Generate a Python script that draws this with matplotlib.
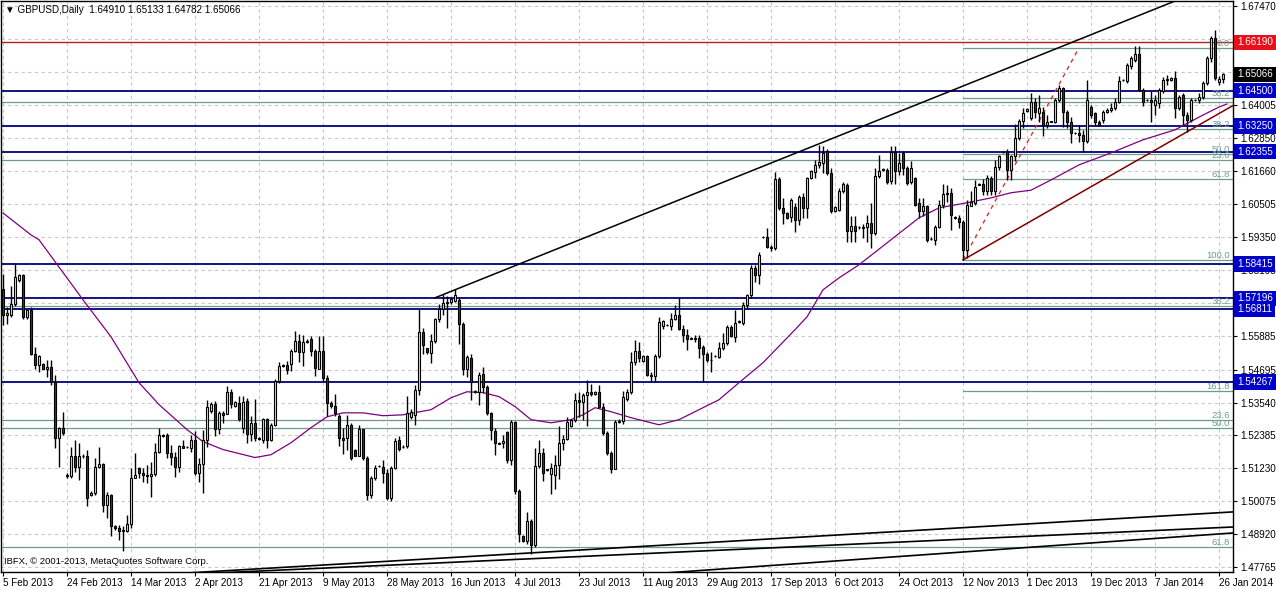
import matplotlib
matplotlib.use("Agg")
import matplotlib.pyplot as plt
import matplotlib.transforms as mtransforms
import numpy as np

plt.rcParams["font.family"] = ["Liberation Sans", "DejaVu Sans"]

# ---- daily bars, 5 Feb 2013 .. 27 Jan 2014 (broker has short Sunday bars) ----
opens = [
    1.5754, 1.5660, 1.5663, 1.5701, 1.5783, 1.5801, 1.5654, 1.5678, 1.5526, 1.5485,
    1.5491, 1.5473, 1.5479, 1.5427, 1.5228, 1.5263, 1.5097, 1.5097, 1.5167, 1.5129,
    1.5167, 1.5167, 1.5030, 1.5036, 1.5129, 1.5137, 1.4995, 1.5030, 1.4922, 1.4913,
    1.4903, 1.4903, 1.4927, 1.5090, 1.5123, 1.5106, 1.5100, 1.5097, 1.5102, 1.5181,
    1.5240, 1.5240, 1.5176, 1.5164, 1.5129, 1.5202, 1.5199, 1.5195, 1.5222, 1.5106,
    1.5137, 1.5222, 1.5324, 1.5348, 1.5260, 1.5319, 1.5313, 1.5391, 1.5342, 1.5354,
    1.5266, 1.5360, 1.5242, 1.5281, 1.5230, 1.5224, 1.5295, 1.5224, 1.5277, 1.5430,
    1.5481, 1.5485, 1.5489, 1.5536, 1.5571, 1.5532, 1.5567, 1.5578, 1.5536, 1.5471,
    1.5536, 1.5442, 1.5354, 1.5342, 1.5307, 1.5230, 1.5230, 1.5274, 1.5189, 1.5166,
    1.5260, 1.5160, 1.5030, 1.5089, 1.5131, 1.5128, 1.5107, 1.5019, 1.5125, 1.5224,
    1.5198, 1.5201, 1.5305, 1.5311, 1.5398, 1.5601, 1.5545, 1.5528, 1.5571, 1.5648,
    1.5683, 1.5703, 1.5706, 1.5712, 1.5715, 1.5630, 1.5473, 1.5511, 1.5392, 1.5392,
    1.5456, 1.5410, 1.5317, 1.5255, 1.5212, 1.5212, 1.5250, 1.5154, 1.5285, 1.5044,
    1.4887, 1.4867, 1.4939, 1.4852, 1.5131, 1.5177, 1.5117, 1.5102, 1.5099, 1.5134,
    1.5212, 1.5227, 1.5272, 1.5293, 1.5363, 1.5355, 1.5380, 1.5392, 1.5385, 1.5392,
    1.5339, 1.5247, 1.5177, 1.5119, 1.5287, 1.5290, 1.5368, 1.5391, 1.5497, 1.5535,
    1.5499, 1.5517, 1.5450, 1.5446, 1.5518, 1.5624, 1.5627, 1.5624, 1.5649, 1.5663,
    1.5614, 1.5593, 1.5579, 1.5581, 1.5581, 1.5550, 1.5523, 1.5503, 1.5517, 1.5515,
    1.5544, 1.5562, 1.5620, 1.5585, 1.5638, 1.5632, 1.5696, 1.5731, 1.5825, 1.5802,
    1.5935, 1.5936, 1.5901, 1.5896, 1.6138, 1.6036, 1.6019, 1.6007, 1.6042, 1.5995,
    1.6077, 1.6036, 1.6142, 1.6165, 1.6189, 1.6194, 1.6237, 1.6160, 1.6028, 1.6032,
    1.6098, 1.6120, 1.5955, 1.5976, 1.5969, 1.5966, 1.5972, 1.5984, 1.5949, 1.6150,
    1.6172, 1.6172, 1.6131, 1.6235, 1.6166, 1.6231, 1.6178, 1.6129, 1.6143, 1.6055,
    1.6026, 1.6043, 1.5929, 1.5925, 1.5972, 1.6049, 1.6086, 1.6090, 1.6004, 1.6004,
    1.5990, 1.5890, 1.6046, 1.6055, 1.6120, 1.6122, 1.6096, 1.6143, 1.6098, 1.6180,
    1.6234, 1.6234, 1.6172, 1.6219, 1.6284, 1.6343, 1.6378, 1.6353, 1.6411, 1.6370,
    1.6376, 1.6329, 1.6341, 1.6341, 1.6417, 1.6458, 1.6376, 1.6341, 1.6300, 1.6300,
    1.6295, 1.6272, 1.6394, 1.6370, 1.6341, 1.6347, 1.6376, 1.6380, 1.6390, 1.6411,
    1.6486, 1.6482, 1.6535, 1.6558, 1.6578, 1.6452, 1.6417, 1.6417, 1.6400, 1.6405,
    1.6447, 1.6488, 1.6488, 1.6494, 1.6388, 1.6435, 1.6364, 1.6347, 1.6417, 1.6417,
    1.6429, 1.6476, 1.6564, 1.6634, 1.6480, 1.64910,
]
highs = [
    1.5806, 1.5690, 1.5765, 1.5845, 1.5806, 1.5806, 1.5684, 1.5690, 1.5549, 1.5520,
    1.5494, 1.5503, 1.5503, 1.5450, 1.5269, 1.5322, 1.5105, 1.5199, 1.5222, 1.5211,
    1.5172, 1.5187, 1.5045, 1.5158, 1.5199, 1.5141, 1.5041, 1.5032, 1.4925, 1.4925,
    1.4919, 1.4959, 1.5123, 1.5176, 1.5129, 1.5123, 1.5135, 1.5146, 1.5211, 1.5263,
    1.5245, 1.5246, 1.5205, 1.5181, 1.5205, 1.5222, 1.5203, 1.5240, 1.5254, 1.5158,
    1.5257, 1.5363, 1.5356, 1.5360, 1.5324, 1.5324, 1.5412, 1.5401, 1.5360, 1.5377,
    1.5377, 1.5371, 1.5307, 1.5366, 1.5234, 1.5301, 1.5301, 1.5283, 1.5436, 1.5497,
    1.5490, 1.5500, 1.5542, 1.5606, 1.5595, 1.5591, 1.5576, 1.5589, 1.5542, 1.5589,
    1.5589, 1.5450, 1.5360, 1.5383, 1.5313, 1.5266, 1.5309, 1.5283, 1.5192, 1.5277,
    1.5260, 1.5166, 1.5095, 1.5136, 1.5135, 1.5152, 1.5119, 1.5131, 1.5230, 1.5238,
    1.5204, 1.5377, 1.5330, 1.5415, 1.5683, 1.5615, 1.5546, 1.5596, 1.5652, 1.5700,
    1.5735, 1.5729, 1.5720, 1.5752, 1.5720, 1.5636, 1.5522, 1.5526, 1.5397, 1.5462,
    1.5479, 1.5415, 1.5322, 1.5264, 1.5215, 1.5241, 1.5255, 1.5293, 1.5289, 1.5049,
    1.4890, 1.4968, 1.4945, 1.5195, 1.5224, 1.5195, 1.5122, 1.5142, 1.5171, 1.5270,
    1.5241, 1.5305, 1.5296, 1.5386, 1.5392, 1.5386, 1.5432, 1.5420, 1.5395, 1.5415,
    1.5351, 1.5255, 1.5183, 1.5293, 1.5295, 1.5395, 1.5403, 1.5532, 1.5573, 1.5567,
    1.5520, 1.5520, 1.5462, 1.5526, 1.5655, 1.5644, 1.5630, 1.5667, 1.5696, 1.5720,
    1.5626, 1.5614, 1.5583, 1.5591, 1.5591, 1.5558, 1.5530, 1.5530, 1.5522, 1.5567,
    1.5597, 1.5626, 1.5626, 1.5679, 1.5643, 1.5708, 1.5737, 1.5837, 1.5837, 1.5884,
    1.5940, 1.5966, 1.5907, 1.6165, 1.6148, 1.6071, 1.6022, 1.6071, 1.6054, 1.6083,
    1.6089, 1.6148, 1.6170, 1.6206, 1.6258, 1.6254, 1.6243, 1.6178, 1.6043, 1.6108,
    1.6129, 1.6125, 1.6008, 1.6008, 1.5974, 1.5980, 1.6014, 1.6055, 1.6178, 1.6225,
    1.6177, 1.6178, 1.6254, 1.6254, 1.6231, 1.6237, 1.6184, 1.6202, 1.6145, 1.6072,
    1.6072, 1.6049, 1.5934, 1.5978, 1.6066, 1.6122, 1.6120, 1.6108, 1.6008, 1.6014,
    1.5996, 1.6066, 1.6096, 1.6137, 1.6126, 1.6140, 1.6154, 1.6149, 1.6207, 1.6225,
    1.6238, 1.6243, 1.6225, 1.6331, 1.6349, 1.6390, 1.6388, 1.6441, 1.6423, 1.6435,
    1.6394, 1.6364, 1.6344, 1.6423, 1.6470, 1.6464, 1.6382, 1.6358, 1.6304, 1.6330,
    1.6310, 1.6488, 1.6400, 1.6376, 1.6345, 1.6382, 1.6388, 1.6405, 1.6423, 1.6500,
    1.6490, 1.6546, 1.6570, 1.6605, 1.6605, 1.6460, 1.6420, 1.6447, 1.6435, 1.6460,
    1.6499, 1.6505, 1.6497, 1.6517, 1.6435, 1.6441, 1.6376, 1.6423, 1.6420, 1.6440,
    1.6482, 1.6570, 1.6640, 1.6664, 1.6500, 1.65133,
]
lows = [
    1.5628, 1.5631, 1.5654, 1.5695, 1.5779, 1.5649, 1.5649, 1.5520, 1.5473, 1.5462,
    1.5471, 1.5444, 1.5415, 1.5193, 1.5129, 1.5240, 1.5090, 1.5088, 1.5111, 1.5082,
    1.5160, 1.4989, 1.5025, 1.5030, 1.5123, 1.4971, 1.4948, 1.4887, 1.4905, 1.4872,
    1.4833, 1.4900, 1.4915, 1.5088, 1.5088, 1.5076, 1.5071, 1.5023, 1.5097, 1.5176,
    1.5233, 1.5158, 1.5135, 1.5094, 1.5111, 1.5193, 1.5195, 1.5181, 1.5100, 1.5076,
    1.5035, 1.5199, 1.5316, 1.5236, 1.5242, 1.5283, 1.5313, 1.5336, 1.5340, 1.5289,
    1.5248, 1.5213, 1.5219, 1.5219, 1.5222, 1.5213, 1.5195, 1.5219, 1.5271, 1.5424,
    1.5478, 1.5455, 1.5465, 1.5530, 1.5495, 1.5483, 1.5563, 1.5518, 1.5448, 1.5471,
    1.5430, 1.5307, 1.5336, 1.5307, 1.5201, 1.5172, 1.5189, 1.5154, 1.5165, 1.5166,
    1.5154, 1.5013, 1.5019, 1.5083, 1.5127, 1.5072, 1.5013, 1.5007, 1.5119, 1.5183,
    1.5194, 1.5195, 1.5295, 1.5276, 1.5380, 1.5526, 1.5525, 1.5493, 1.5562, 1.5636,
    1.5660, 1.5617, 1.5700, 1.5706, 1.5560, 1.5450, 1.5444, 1.5363, 1.5388, 1.5345,
    1.5386, 1.5311, 1.5224, 1.5171, 1.5207, 1.5195, 1.5142, 1.5136, 1.5032, 1.4864,
    1.4864, 1.4858, 1.4823, 1.4846, 1.5125, 1.5078, 1.5113, 1.5032, 1.5049, 1.5084,
    1.5189, 1.5224, 1.5268, 1.5287, 1.5305, 1.5293, 1.5270, 1.5378, 1.5382, 1.5334,
    1.5241, 1.5171, 1.5108, 1.5119, 1.5283, 1.5280, 1.5360, 1.5385, 1.5485, 1.5497,
    1.5496, 1.5446, 1.5427, 1.5427, 1.5509, 1.5614, 1.5622, 1.5608, 1.5644, 1.5608,
    1.5567, 1.5538, 1.5576, 1.5567, 1.5509, 1.5427, 1.5497, 1.5462, 1.5513, 1.5509,
    1.5538, 1.5556, 1.5585, 1.5567, 1.5635, 1.5626, 1.5685, 1.5720, 1.5778, 1.5772,
    1.5932, 1.5896, 1.5886, 1.5890, 1.6030, 1.5983, 1.5998, 1.5989, 1.5954, 1.5978,
    1.6001, 1.6001, 1.6140, 1.6142, 1.6177, 1.6160, 1.6154, 1.6020, 1.6025, 1.6026,
    1.6090, 1.5919, 1.5919, 1.5919, 1.5965, 1.5931, 1.5919, 1.5896, 1.5943, 1.6143,
    1.6169, 1.6122, 1.6122, 1.6122, 1.6154, 1.6154, 1.6119, 1.6122, 1.6043, 1.6002,
    1.6008, 1.5919, 1.5925, 1.5907, 1.5966, 1.6037, 1.6060, 1.5961, 1.6000, 1.5966,
    1.5855, 1.5861, 1.6043, 1.6049, 1.6117, 1.6084, 1.6084, 1.6084, 1.6084, 1.6172,
    1.6230, 1.6137, 1.6137, 1.6202, 1.6278, 1.6319, 1.6375, 1.6347, 1.6353, 1.6341,
    1.6292, 1.6318, 1.6338, 1.6335, 1.6411, 1.6323, 1.6318, 1.6265, 1.6296, 1.6270,
    1.6235, 1.6265, 1.6353, 1.6330, 1.6325, 1.6335, 1.6370, 1.6375, 1.6382, 1.6405,
    1.6484, 1.6476, 1.6525, 1.6552, 1.6447, 1.6395, 1.6414, 1.6341, 1.6364, 1.6390,
    1.6440, 1.6470, 1.6485, 1.6353, 1.6380, 1.6330, 1.6305, 1.6340, 1.6414, 1.6405,
    1.6420, 1.6470, 1.6550, 1.6488, 1.6470, 1.64782,
]
closes = [
    1.5660, 1.5667, 1.5701, 1.5795, 1.5801, 1.5654, 1.5678, 1.5526, 1.5485, 1.5518,
    1.5473, 1.5479, 1.5427, 1.5228, 1.5263, 1.5248, 1.5099, 1.5167, 1.5129, 1.5167,
    1.5165, 1.5018, 1.5036, 1.5129, 1.5137, 1.4995, 1.5030, 1.4922, 1.4913, 1.4903,
    1.4907, 1.4927, 1.5090, 1.5100, 1.5106, 1.5100, 1.5097, 1.5102, 1.5181, 1.5240,
    1.5238, 1.5176, 1.5164, 1.5129, 1.5202, 1.5195, 1.5199, 1.5222, 1.5106, 1.5137,
    1.5222, 1.5339, 1.5348, 1.5260, 1.5319, 1.5310, 1.5391, 1.5348, 1.5356, 1.5295,
    1.5356, 1.5242, 1.5283, 1.5230, 1.5227, 1.5295, 1.5224, 1.5277, 1.5430, 1.5481,
    1.5485, 1.5470, 1.5536, 1.5571, 1.5532, 1.5567, 1.5571, 1.5536, 1.5477, 1.5536,
    1.5442, 1.5354, 1.5342, 1.5319, 1.5230, 1.5222, 1.5274, 1.5160, 1.5168, 1.5260,
    1.5160, 1.5030, 1.5089, 1.5125, 1.5131, 1.5107, 1.5019, 1.5125, 1.5219, 1.5191,
    1.5199, 1.5319, 1.5322, 1.5398, 1.5601, 1.5557, 1.5530, 1.5571, 1.5648, 1.5683,
    1.5703, 1.5706, 1.5717, 1.5731, 1.5630, 1.5473, 1.5514, 1.5427, 1.5394, 1.5452,
    1.5410, 1.5317, 1.5259, 1.5212, 1.5210, 1.5220, 1.5154, 1.5285, 1.5044, 1.4893,
    1.4867, 1.4939, 1.4852, 1.5131, 1.5177, 1.5108, 1.5119, 1.5125, 1.5134, 1.5212,
    1.5227, 1.5285, 1.5293, 1.5363, 1.5355, 1.5380, 1.5392, 1.5385, 1.5392, 1.5339,
    1.5247, 1.5177, 1.5119, 1.5287, 1.5290, 1.5372, 1.5391, 1.5497, 1.5535, 1.5511,
    1.5517, 1.5450, 1.5446, 1.5518, 1.5638, 1.5640, 1.5626, 1.5649, 1.5663, 1.5614,
    1.5593, 1.5579, 1.5580, 1.5577, 1.5544, 1.5523, 1.5503, 1.5503, 1.5518, 1.5544,
    1.5562, 1.5620, 1.5588, 1.5632, 1.5640, 1.5696, 1.5731, 1.5825, 1.5802, 1.5874,
    1.5937, 1.5901, 1.5896, 1.6138, 1.6036, 1.6019, 1.6001, 1.6066, 1.5995, 1.6077,
    1.6036, 1.6144, 1.6167, 1.6189, 1.6200, 1.6231, 1.6160, 1.6026, 1.6040, 1.6098,
    1.6122, 1.5955, 1.5976, 1.5955, 1.5970, 1.5972, 1.5984, 1.5949, 1.6150, 1.6169,
    1.6174, 1.6129, 1.6235, 1.6166, 1.6196, 1.6178, 1.6125, 1.6178, 1.6049, 1.6026,
    1.6043, 1.5925, 1.5930, 1.5972, 1.6049, 1.6086, 1.6090, 1.6014, 1.6005, 1.5990,
    1.5890, 1.6049, 1.6058, 1.6113, 1.6122, 1.6096, 1.6143, 1.6098, 1.6180, 1.6219,
    1.6235, 1.6172, 1.6219, 1.6284, 1.6343, 1.6372, 1.6384, 1.6411, 1.6376, 1.6390,
    1.6329, 1.6341, 1.6342, 1.6417, 1.6458, 1.6376, 1.6341, 1.6300, 1.6301, 1.6295,
    1.6272, 1.6417, 1.6364, 1.6341, 1.6329, 1.6376, 1.6380, 1.6390, 1.6411, 1.6482,
    1.6488, 1.6540, 1.6564, 1.6578, 1.6452, 1.6411, 1.6417, 1.6411, 1.6417, 1.6452,
    1.6488, 1.6490, 1.6494, 1.6388, 1.6429, 1.6364, 1.6347, 1.6417, 1.6417, 1.6429,
    1.6476, 1.6564, 1.6634, 1.6494, 1.6491, 1.65066,
]

# moving average (purple): bar index -> price
ma_bar = [0, 7, 9, 20, 27, 34, 39, 46, 50, 55, 63, 67, 72, 77, 81, 85, 90, 95, 100,
          107, 112, 116, 120, 124, 128, 132, 137, 142, 145, 148, 152, 157, 164, 169,
          174, 179, 184, 190, 198, 201, 205, 209, 214, 221, 229, 234, 241, 247, 252,
          257, 262, 269, 277, 285, 293, 300, 304, 306]
ma_val = [1.6020, 1.5943, 1.5926, 1.5715, 1.5585, 1.5424, 1.5347, 1.5259, 1.5217,
          1.5189, 1.5161, 1.5171, 1.5213, 1.5266, 1.5304, 1.5318, 1.5318, 1.5308,
          1.5311, 1.5329, 1.5371, 1.5392, 1.5389, 1.5375, 1.5340, 1.5294, 1.5283,
          1.5294, 1.5311, 1.5336, 1.5322, 1.5301, 1.5276, 1.5294, 1.5329, 1.5364,
          1.5424, 1.5494, 1.5610, 1.5655, 1.5750, 1.5792, 1.5838, 1.5915, 1.6003,
          1.6038, 1.6056, 1.6073, 1.6091, 1.6100, 1.6136, 1.6189, 1.6231, 1.6277,
          1.6312, 1.6364, 1.6392, 1.6403]

# horizontal support / resistance levels
blue_levels = [1.64500, 1.63250, 1.62355, 1.58415, 1.57196, 1.56811, 1.54267]
red_level = 1.66190
last_close = 1.65066

# fibonacci levels drawn from the 12 Nov low to the right edge
fib_a_start = 240
fib_a_prices = [1.6600, 1.6424, 1.6315, 1.6228, 1.6140, 1.5855, 1.5395]
fib_a_labels = ["0.0", "38.2", "38.2", "50.0", "61.8", "100.0", "161.8"]
# fibonacci levels across the whole chart
fib_b_prices = [1.6410, 1.6207, 1.5692, 1.5294, 1.5266, 1.4848]
fib_b_labels = ["", "23.6", "38.2", "23.6", "50.0", "61.8"]

# trend lines (bar index, price)
upper_line = ([108, 204], [1.5722, 1.6263])
maroon_line = ([240, 296], [1.5855, 1.6305])
fib_diag = ([240, 269], [1.5855, 1.6600])
lower_lines = [([132, 307.5], [1.4826, 1.4970]),
               ([158, 307.5], [1.4822, 1.4917]),
               ([158, 307.5], [1.4748, 1.4896])]

y_ticks = [1.67470, 1.66315, 1.65160, 1.64005, 1.62850, 1.61660, 1.60505, 1.59350,
           1.58195, 1.57040, 1.55885, 1.54695, 1.53540, 1.52385, 1.51230, 1.50075,
           1.48920, 1.47765]
date_labels = ["5 Feb 2013", "24 Feb 2013", "14 Mar 2013", "2 Apr 2013", "21 Apr 2013",
               "9 May 2013", "28 May 2013", "16 Jun 2013", "4 Jul 2013", "23 Jul 2013",
               "11 Aug 2013", "29 Aug 2013", "17 Sep 2013", "6 Oct 2013", "24 Oct 2013",
               "12 Nov 2013", "1 Dec 2013", "19 Dec 2013", "7 Jan 2014", "26 Jan 2014"]
date_step = 16

W, H = 1276, 589
XMAX = 307.5
fig = plt.figure(figsize=(W / 100, H / 100), dpi=100)
ax = fig.add_axes([1 / W, (H - 572) / H, (1233 - 1) / W, (572 - 1) / H])
ax.set_xlim(-0.5, XMAX)
ax.set_ylim(1.47589, 1.67646)

o = np.array(opens); c = np.array(closes)
hi = np.maximum(np.array(highs), np.maximum(o, c))
lo = np.minimum(np.array(lows), np.minimum(o, c))
x = np.arange(len(c))

fs = 7.1
gridcol = "#c8c8c8"
date_pos = np.arange(len(date_labels)) * date_step
for p in date_pos:
    ax.axvline(p, color=gridcol, lw=0.8, ls=(0, (3, 3)), zorder=0)
for t in y_ticks:
    ax.axhline(t, color=gridcol, lw=0.8, ls=(0, (3, 3)), zorder=0)

fibcol = "#6f9c8a"
for pr in fib_b_prices:
    ax.axhline(pr, color=fibcol, lw=0.9, zorder=1)
for pr in fib_a_prices:
    ax.plot([fib_a_start, XMAX], [pr, pr], color=fibcol, lw=0.9, zorder=1)
for pr in blue_levels:
    ax.axhline(pr, color="#00007a", lw=1.3, zorder=2)
ax.axhline(red_level, color="#b22222", lw=1.0, zorder=2)


def ray(xs, ys, full=False, **kw):
    k = (ys[1] - ys[0]) / (xs[1] - xs[0])
    x0 = -0.5 if full else xs[0]
    ax.plot([x0, XMAX], [ys[0] + k * (x0 - xs[0]), ys[0] + k * (XMAX - xs[0])], **kw)


ray(*upper_line, color="black", lw=1.1, zorder=3)
ray(*maroon_line, color="#800000", lw=1.1, zorder=3)
for xs, ys in lower_lines:
    ray(xs, ys, full=True, color="black", lw=1.2, zorder=3)
ax.plot(*fib_diag, color="#e03030", lw=1.0, ls=(0, (3, 3)), zorder=3)

ax.plot(ma_bar, ma_val, color="#800080", lw=0.9, zorder=4)

# candles
up = c >= o
ax.vlines(x, lo, hi, color="black", lw=1.0, zorder=5)
body_lo = np.minimum(o, c)
body_h = np.maximum(np.abs(c - o), 0.00003)
ax.bar(x[up], body_h[up], bottom=body_lo[up], width=0.6, color="#d4ecc4",
       edgecolor="black", lw=0.8, zorder=6)
ax.bar(x[~up], body_h[~up], bottom=body_lo[~up], width=0.6, color="#8b1a1a",
       edgecolor="black", lw=0.8, zorder=6)

for pr, lab in zip(fib_a_prices + fib_b_prices, fib_a_labels + fib_b_labels):
    ax.text(306.8, pr, lab, color=fibcol, fontsize=6.8, ha="right", va="bottom", zorder=7)

for s in ax.spines.values():
    s.set_linewidth(1.0)
    s.set_color("black")
ax.yaxis.tick_right()
ax.set_yticks(y_ticks)
ax.set_yticklabels([f"{t:.5f}" for t in y_ticks], fontsize=fs)
ax.set_xticks(date_pos)
ax.set_xticklabels(date_labels, fontsize=fs, ha="left")
ax.tick_params(axis="both", length=3, width=0.8, pad=2)
ax.tick_params(axis="x", pad=1)

# price tags on the right axis
tr = mtransforms.blended_transform_factory(ax.transAxes, ax.transData)
tags = [(pr, "#0000c8") for pr in blue_levels] + [(red_level, "#e8101a"), (last_close, "black")]
for pr, col in tags:
    ax.text(1.0033, pr, f"{pr:.5f}", transform=tr, fontsize=fs, color="white",
            va="center", ha="left", zorder=10, clip_on=False,
            bbox=dict(boxstyle="square,pad=0.28", fc=col, ec="none"))

fig.text(5 / W, 1 - 10 / H, "\u25bc GBPUSD,Daily  1.64910 1.65133 1.64782 1.65066",
         fontsize=fs, va="center", ha="left")
ax.text(0.3, 1.4795, "IBFX, \u00a9 2001-2013, MetaQuotes Software Corp.", fontsize=6.8,
        va="center", ha="left", zorder=8)

fig.savefig("out.png", dpi=100)
